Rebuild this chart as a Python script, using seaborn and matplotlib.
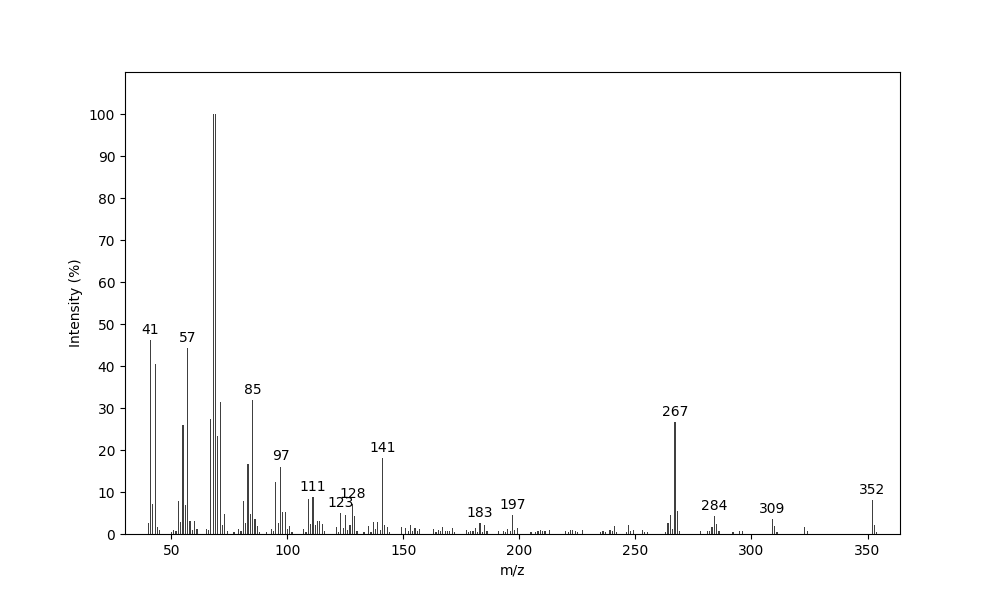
import numpy as np
import pandas as pd
import matplotlib
matplotlib.use("Agg")
import matplotlib.pyplot as plt
import seaborn as sns

# m/z and relative intensity (%)
mz = [40, 41, 42, 43, 44, 45, 50, 51, 52, 53, 54, 55, 56, 57, 58, 59, 60, 61,
      65, 66, 67, 68, 69, 70, 71, 72, 73, 74, 77, 79, 80, 81, 82, 83, 84, 85,
      86, 87, 88, 91, 93, 94, 95, 96, 97, 98, 99, 100, 101, 102, 107, 108,
      109, 110, 111, 112, 113, 114, 115, 116, 121, 122, 123, 124, 125, 126,
      127, 128, 129, 130, 133, 135, 136, 137, 138, 139, 140, 141, 142, 143,
      144, 149, 151, 152, 153, 154, 155, 156, 157, 163, 164, 165, 166, 167,
      168, 169, 170, 171, 172, 177, 178, 179, 180, 181, 182, 183, 184, 185,
      186, 191, 193, 194, 195, 196, 197, 198, 199, 205, 207, 208, 209, 210,
      211, 213, 220, 221, 222, 223, 224, 225, 227, 235, 236, 237, 239, 240,
      241, 242, 246, 247, 248, 249, 253, 254, 255, 263, 264, 265, 266, 267,
      268, 269, 278, 281, 282, 283, 284, 285, 286, 292, 295, 296, 309, 310,
      311, 323, 324, 352, 353, 354]
intensity = [2.6, 46.2, 7.1, 40.5, 1.7, 1.0, 0.5, 1.0, 0.7, 7.9, 2.8, 26.0,
             6.9, 44.3, 3.1, 1.0, 3.2, 1.2, 1.2, 1.0, 27.4, 99.9, 100.0, 23.3,
             31.4, 2.1, 4.8, 0.7, 0.5, 1.3, 0.7, 7.9, 2.6, 16.7, 4.8, 31.9,
             3.6, 1.9, 0.5, 0.5, 1.3, 0.7, 12.4, 2.6, 16.0, 5.2, 5.3, 1.2,
             1.9, 0.5, 1.2, 0.5, 8.3, 2.4, 8.8, 2.1, 3.1, 3.1, 2.4, 0.7, 1.7,
             0.5, 5.0, 1.4, 4.5, 0.9, 2.1, 7.1, 4.3, 0.7, 0.5, 1.9, 0.5, 2.9,
             1.2, 2.9, 0.9, 18.1, 2.1, 1.7, 0.5, 1.6, 1.4, 0.7, 2.1, 0.7, 1.4,
             0.7, 1.2, 1.2, 0.5, 0.9, 0.7, 1.7, 0.7, 0.7, 0.7, 1.4, 0.5, 0.9,
             0.5, 0.7, 0.7, 1.4, 0.5, 2.6, 0.5, 2.1, 0.7, 0.7, 0.7, 0.5, 1.2,
             0.7, 4.5, 0.9, 1.4, 0.5, 0.5, 0.7, 0.9, 0.7, 0.7, 0.9, 0.7, 0.5,
             0.9, 0.9, 0.7, 0.5, 0.9, 0.5, 0.7, 0.5, 0.9, 0.7, 1.9, 0.5, 0.5,
             2.1, 0.7, 1.0, 1.0, 0.5, 0.5, 0.5, 2.6, 4.5, 1.2, 26.7, 5.5, 0.7,
             0.7, 0.7, 0.7, 1.7, 4.3, 2.4, 0.7, 0.5, 0.7, 0.7, 3.6, 1.9, 0.5,
             1.7, 0.7, 8.1, 2.1, 0.5]

# peaks that get a label
labelled = [41, 57, 85, 97, 111, 123, 128, 141, 183, 197, 267, 284, 309, 352]

df = pd.DataFrame({"mz": mz, "intensity": intensity})

fig, ax = plt.subplots(figsize=(10, 6), dpi=100)
sns.histplot(data=df, x="mz", weights="intensity", discrete=True, shrink=0.5,
             color="0.25", edgecolor="none", alpha=1, ax=ax)

for m in labelled:
    v = df.loc[df.mz == m, "intensity"].iloc[0]
    ax.text(m, v + 0.8, str(m), ha="center", va="bottom", fontsize=10)

ax.set_xlim(min(mz) - 10, max(mz) + 10)
ax.set_ylim(0, 110)
ax.set_yticks(np.arange(0, 101, 10))
ax.set_xlabel("m/z")
ax.set_ylabel("Intensity (%)")

plt.savefig("out.png")
